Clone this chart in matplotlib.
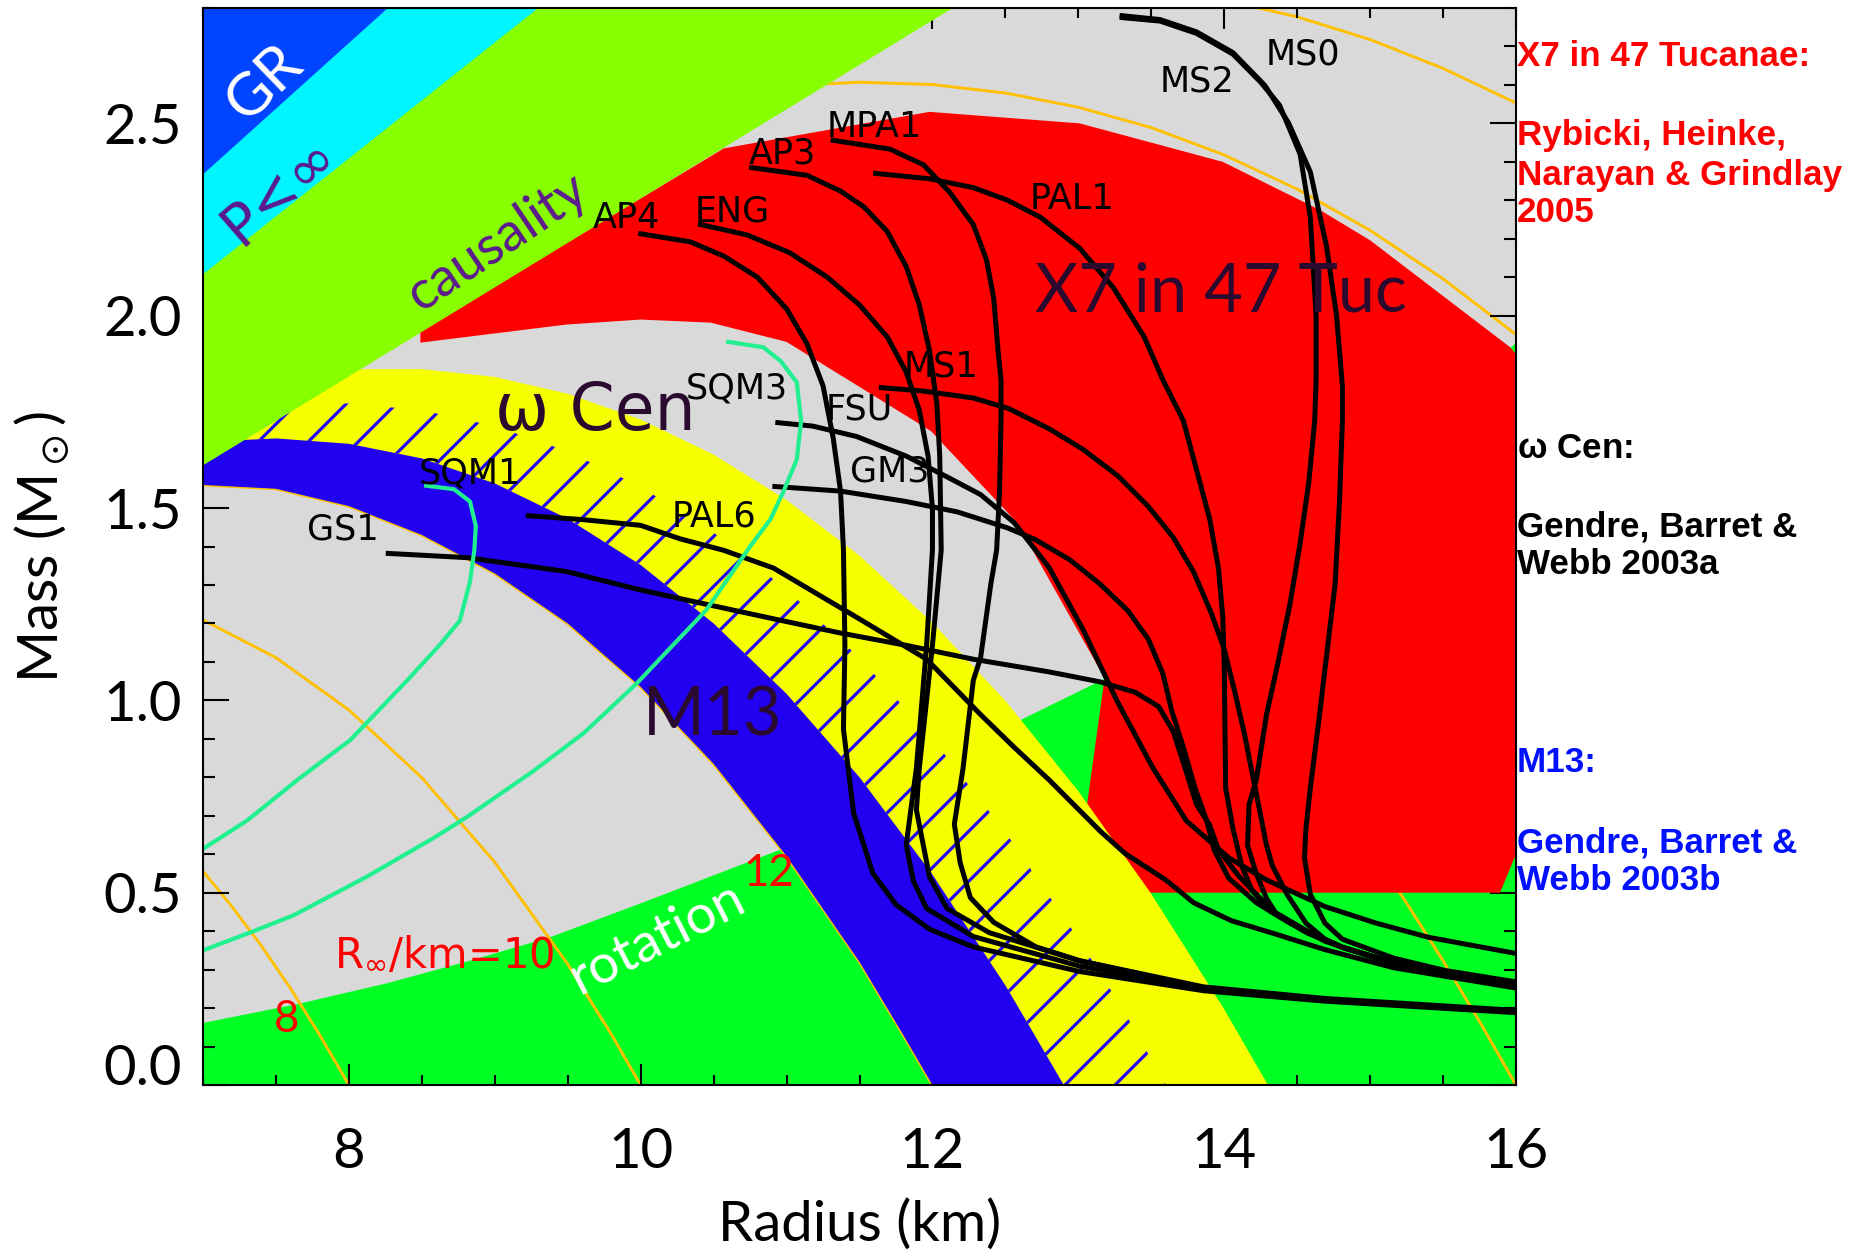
import matplotlib
matplotlib.use("Agg")
import matplotlib.pyplot as plt
from matplotlib.ticker import MultipleLocator, FormatStrFormatter

# ---------------- constraint regions (radius in km, mass in Msun) ----------------
gr_r = [7.0, 8.26]
gr_m = [2.37, 2.80]
pinf_r = [7.0, 9.29]
pinf_m = [2.11, 2.80]
caus_r = [7.0, 12.13]
caus_m = [1.613, 2.80]

rot_r = [7.0, 7.66, 8.26, 8.85, 9.38, 10.0, 10.96, 12.0, 12.61, 13.18, 14.0, 15.0, 15.96, 16.0]
rot_m = [0.163, 0.213, 0.266, 0.327, 0.386, 0.474, 0.614, 0.82, 0.952, 1.058, 1.27, 1.56, 1.918, 1.932]

# X7 in 47 Tuc allowed region
x7_r = [8.49, 8.49, 10.57, 11.98, 13.01, 13.99, 14.66, 15.00, 15.96, 16.00, 16.00, 15.89,
        13.49, 13.06, 13.18, 12.58, 11.99, 11.50, 11.00, 10.48, 10.00, 9.49, 8.49]
x7_m = [1.93, 1.96, 2.435, 2.53, 2.50, 2.40, 2.274, 2.196, 1.918, 1.90, 0.60, 0.50,
        0.50, 0.73, 1.058, 1.462, 1.70, 1.815, 1.932, 1.982, 1.99, 1.977, 1.93]

# band edges (M13 / omega Cen)
e12_r = [7.0, 7.5, 8.0, 8.5, 9.0, 9.5, 10.0, 10.5, 11.0, 11.5, 11.8, 12.0]
e12_m = [1.56, 1.55, 1.505, 1.43, 1.33, 1.20, 1.035, 0.835, 0.595, 0.32, 0.13, 0.0]
e129_r = [7.0, 7.5, 8.0, 8.5, 9.0, 9.5, 10.0, 10.5, 11.0, 11.5, 12.0, 12.5, 12.7, 12.9]
e129_m = [1.672, 1.681, 1.667, 1.629, 1.564, 1.472, 1.352, 1.200, 1.017, 0.800, 0.547, 0.259, 0.13, 0.0]
e136_r = [7.0, 7.5, 8.0, 8.5, 9.0, 9.5, 10.0, 10.5, 11.0, 11.5, 12.0, 12.5, 13.0, 13.3, 13.6]
e136_m = [1.743, 1.767, 1.772, 1.754, 1.713, 1.647, 1.555, 1.436, 1.288, 1.110, 0.900, 0.657, 0.380, 0.20, 0.0]
e143_r = [7.0, 7.5, 8.0, 8.5, 9.0, 9.5, 10.0, 10.5, 11.0, 11.5, 12.0, 12.5, 13.0, 13.5, 14.0, 14.3]
e143_m = [1.802, 1.841, 1.861, 1.861, 1.841, 1.797, 1.730, 1.639, 1.521, 1.376, 1.202, 0.999, 0.764, 0.497, 0.197, 0.0]

# constant R_infinity curves
r8_r = [7.0, 7.2, 7.4, 7.6, 7.8, 8.0]
r8_m = [0.556, 0.463, 0.362, 0.251, 0.130, 0.0]
r10_r = [7.0, 7.5, 8.0, 8.5, 9.0, 9.5, 9.8, 10.0]
r10_m = [1.209, 1.111, 0.975, 0.799, 0.579, 0.314, 0.131, 0.0]
r16_r = [14.5, 15.0, 15.25, 15.5, 15.75, 16.0]
r16_m = [0.877, 0.615, 0.473, 0.323, 0.165, 0.0]
r20_r = [10.6, 11.0, 11.5, 12.0, 12.5, 13.0, 13.5, 14.0, 14.5, 15.0, 15.5, 16.0]
r20_m = [2.581, 2.598, 2.607, 2.601, 2.579, 2.542, 2.489, 2.418, 2.329, 2.222, 2.096, 1.951]
r22_r = [13.0, 13.5, 14.0, 14.5, 15.0, 15.5, 16.0]
r22_m = [2.865, 2.850, 2.821, 2.777, 2.718, 2.643, 2.553]

# ---------------- mass-radius curves ----------------
gs1_r = [8.27, 8.81, 9.49, 10.0, 10.41, 10.91, 11.37, 11.82, 12.28, 12.80, 13.15, 13.39, 13.55,
         13.65, 13.74, 13.81, 13.90, 13.96, 14.10, 14.33, 14.57, 14.81, 15.16, 15.51, 16.0]
gs1_m = [1.382, 1.371, 1.335, 1.287, 1.253, 1.212, 1.175, 1.143, 1.107, 1.074, 1.048, 1.021, 0.984,
         0.920, 0.814, 0.729, 0.676, 0.612, 0.543, 0.453, 0.400, 0.358, 0.315, 0.289, 0.268]
pal6_r = [9.23, 9.60, 10.0, 10.27, 10.57, 10.91, 11.48, 11.96, 12.33, 12.56, 12.80, 13.15, 13.32,
          13.60, 13.79, 14.05, 14.33, 14.69, 15.16, 16.0]
pal6_m = [1.480, 1.470, 1.455, 1.420, 1.390, 1.344, 1.216, 1.107, 0.963, 0.878, 0.793, 0.660, 0.602,
          0.533, 0.474, 0.427, 0.395, 0.352, 0.305, 0.252]
fsu_r = [10.94, 11.18, 11.48, 11.82, 12.10, 12.33, 12.56, 12.80, 13.03, 13.27, 13.51, 13.74, 14.03,
         14.29, 14.69, 15.04, 15.40, 16.0]
fsu_m = [1.722, 1.713, 1.686, 1.635, 1.581, 1.535, 1.462, 1.345, 1.186, 0.995, 0.825, 0.687, 0.591,
         0.533, 0.464, 0.421, 0.384, 0.342]
gm3_r = [10.92, 11.37, 11.82, 12.17, 12.51, 12.70, 12.94, 13.15, 13.34, 13.48, 13.58, 13.64, 13.72,
         13.80, 13.88, 13.93, 14.03, 14.22, 14.45, 14.69, 14.81, 15.16, 15.51, 16.0]
gm3_m = [1.556, 1.544, 1.517, 1.490, 1.449, 1.419, 1.366, 1.302, 1.233, 1.159, 1.069, 0.973, 0.878,
         0.772, 0.687, 0.612, 0.538, 0.474, 0.421, 0.374, 0.358, 0.318, 0.291, 0.265]
ms1_r = [11.65, 11.94, 12.28, 12.52, 12.80, 13.03, 13.27, 13.48, 13.65, 13.79, 13.91, 14.00, 14.07,
         14.14, 14.19, 14.24, 14.29, 14.33, 14.43, 14.56, 14.69, 14.81, 15.16, 15.51, 16.0]
ms1_m = [1.813, 1.804, 1.786, 1.759, 1.706, 1.653, 1.584, 1.504, 1.424, 1.334, 1.228, 1.133, 1.026,
         0.910, 0.814, 0.719, 0.623, 0.570, 0.496, 0.421, 0.379, 0.358, 0.318, 0.291, 0.265]
pal1_r = [11.61, 11.98, 12.28, 12.51, 12.74, 13.01, 13.24, 13.45, 13.58, 13.72, 13.81, 13.90, 13.96,
          13.99, 14.00, 14.01, 14.06, 14.12, 14.19, 14.31, 14.57, 14.81, 15.16, 15.51, 16.0]
pal1_m = [2.370, 2.356, 2.333, 2.301, 2.256, 2.175, 2.073, 1.946, 1.833, 1.727, 1.600, 1.472, 1.345,
          1.217, 1.090, 0.772, 0.666, 0.570, 0.506, 0.453, 0.395, 0.358, 0.318, 0.291, 0.265]
ms2_r = [13.30, 13.56, 13.81, 14.06, 14.25, 14.38, 14.52, 14.59, 14.63, 14.63, 14.62, 14.58, 14.52,
         14.45, 14.37, 14.29, 14.22, 14.17, 14.16, 14.22, 14.29, 14.36, 14.56, 14.81, 15.16, 15.51, 16.0]
ms2_m = [2.775, 2.766, 2.734, 2.680, 2.607, 2.547, 2.420, 2.256, 2.000, 1.833, 1.727, 1.568, 1.408,
         1.249, 1.101, 0.963, 0.793, 0.729, 0.623, 0.549, 0.485, 0.443, 0.400, 0.358, 0.318, 0.291, 0.265]
ms0_r = [13.30, 13.56, 13.81, 14.06, 14.25, 14.28, 14.44, 14.59, 14.70, 14.77, 14.81, 14.81, 14.79,
         14.76, 14.71, 14.65, 14.59, 14.56, 14.55, 14.59, 14.69, 14.81, 15.16, 15.51, 16.0]
ms0_m = [2.780, 2.770, 2.738, 2.684, 2.610, 2.598, 2.502, 2.374, 2.183, 2.000, 1.818, 1.727, 1.515,
         1.302, 1.143, 0.952, 0.772, 0.666, 0.591, 0.496, 0.421, 0.379, 0.330, 0.298, 0.268]
ap4_r = [10.00, 10.34, 10.57, 10.80, 11.00, 11.14, 11.25, 11.32, 11.37, 11.39, 11.40, 11.39, 11.46,
         11.53, 11.59, 11.75, 11.98, 12.28, 13.01, 13.86, 14.69, 16.0]
ap4_m = [2.213, 2.192, 2.155, 2.100, 2.018, 1.927, 1.818, 1.681, 1.544, 1.391, 1.143, 0.925, 0.706,
         0.624, 0.551, 0.469, 0.405, 0.359, 0.295, 0.245, 0.218, 0.188]
eng_r = [10.41, 10.73, 11.02, 11.28, 11.50, 11.69, 11.82, 11.91, 11.97, 12.00, 12.00, 11.96, 11.89,
         11.82, 11.87, 11.96, 12.28, 13.01, 13.86, 14.69, 16.0]
eng_m = [2.237, 2.210, 2.164, 2.100, 2.028, 1.945, 1.854, 1.754, 1.635, 1.498, 1.391, 1.143, 0.824,
         0.624, 0.530, 0.459, 0.386, 0.309, 0.249, 0.220, 0.190]
ap3_r = [10.76, 11.14, 11.37, 11.53, 11.69, 11.82, 11.91, 11.98, 12.03, 12.05, 12.06, 12.00, 11.91,
         11.89, 11.98, 12.10, 12.39, 13.01, 13.86, 14.69, 16.0]
ap3_m = [2.385, 2.365, 2.324, 2.283, 2.219, 2.128, 2.028, 1.909, 1.772, 1.635, 1.391, 1.143, 0.824,
         0.715, 0.541, 0.459, 0.396, 0.323, 0.252, 0.222, 0.192]
mpa1_r = [11.32, 11.71, 11.94, 12.12, 12.28, 12.37, 12.42, 12.45, 12.47, 12.47, 12.46, 12.44, 12.40,
          12.33, 12.28, 12.21, 12.15, 12.19, 12.26, 12.42, 12.71, 13.01, 13.86, 14.69, 16.0]
mpa1_m = [2.456, 2.433, 2.392, 2.320, 2.237, 2.146, 2.046, 1.909, 1.833, 1.727, 1.544, 1.391, 1.302,
          1.111, 1.052, 0.824, 0.678, 0.578, 0.487, 0.423, 0.359, 0.323, 0.255, 0.225, 0.194]
sqm1_r = [8.53, 8.72, 8.83, 8.87, 8.86, 8.83, 8.76, 8.62, 8.40, 8.01, 7.66, 7.30, 7.0]
sqm1_m = [1.558, 1.549, 1.517, 1.453, 1.391, 1.308, 1.207, 1.143, 1.052, 0.897, 0.797, 0.687, 0.614]
sqm3_r = [10.60, 10.84, 10.96, 11.07, 11.10, 11.07, 10.98, 10.89, 10.75, 10.45, 9.97, 9.61, 9.26,
          8.81, 8.58, 8.12, 7.62, 7.32, 7.0]
sqm3_m = [1.932, 1.918, 1.882, 1.827, 1.727, 1.626, 1.544, 1.471, 1.400, 1.235, 1.043, 0.915, 0.815,
          0.697, 0.642, 0.541, 0.441, 0.396, 0.350]

eos_names = ["GS1", "PAL6", "FSU", "GM3", "MS1", "PAL1", "MS2", "MS0",
             "AP4", "ENG", "AP3", "MPA1", "SQM1", "SQM3"]
x_ticks = [8, 10, 12, 14, 16]
y_ticks = [0.0, 0.5, 1.0, 1.5, 2.0, 2.5]

# ---------------- figure ----------------
plt.rcParams["hatch.linewidth"] = 0.75
plt.rcParams["mathtext.default"] = "regular"
thin = dict(family=["Lato", "DejaVu Sans"])

fig = plt.figure(figsize=(1870 / 300, 1255 / 300), dpi=300)
ax = fig.add_axes([203 / 1870, 1 - 1085 / 1255, 1313 / 1870, 1077 / 1255])
ax.set_facecolor("#d9d9d9")

ax.fill_between(rot_r, 0, rot_m, color="#00ff22", lw=0, zorder=1)

orange = "#ffc000"
for rr, mm in [(r8_r, r8_m), (r10_r, r10_m), (e12_r, e12_m), (r16_r, r16_m),
               (r20_r, r20_m), (r22_r, r22_m)]:
    ax.plot(rr, mm, color=orange, lw=0.7, zorder=1.5)

ax.fill(x7_r, x7_m, color="#ff0000", lw=0, zorder=2)

ax.fill(e143_r + e12_r[::-1], e143_m + e12_m[::-1], color="#f6ff00", lw=0, zorder=3)
ax.fill(e136_r + e129_r[::-1], e136_m + e129_m[::-1], facecolor="none",
        edgecolor="#2200ff", hatch="//", lw=0, zorder=3.5)
ax.fill(e129_r + e12_r[::-1], e129_m + e12_m[::-1], color="#2200f0", lw=0, zorder=4)

ax.fill_between(caus_r, caus_m, 2.8, color="#88ff00", lw=0, zorder=5)
ax.fill_between(pinf_r, pinf_m, 2.8, color="#00f5ff", lw=0, zorder=5.1)
ax.fill_between(gr_r, gr_m, 2.8, color="#0044ff", lw=0, zorder=5.2)

curves = [(gs1_r, gs1_m), (pal6_r, pal6_m), (fsu_r, fsu_m), (gm3_r, gm3_m), (ms1_r, ms1_m),
          (pal1_r, pal1_m), (ms2_r, ms2_m), (ms0_r, ms0_m), (ap4_r, ap4_m), (eng_r, eng_m),
          (ap3_r, ap3_m), (mpa1_r, mpa1_m)]
for rr, mm in curves:
    ax.plot(rr, mm, color="black", lw=1.2, zorder=6)
for rr, mm in [(sqm1_r, sqm1_m), (sqm3_r, sqm3_m)]:
    ax.plot(rr, mm, color="#20f090", lw=1.0, zorder=6)

# curve labels
label_pos = [(7.96, 1.443), (10.50, 1.479), (11.50, 1.755), (11.71, 1.596), (12.06, 1.867),
             (12.96, 2.304), (13.81, 2.608), (14.54, 2.678), (9.90, 2.254), (10.63, 2.272),
             (10.97, 2.423), (11.60, 2.490), (8.83, 1.591), (10.66, 1.812)]
for name, (lx, ly) in zip(eos_names, label_pos):
    ax.text(lx, ly, name, fontsize=8.4, ha="center", va="center", color="black", zorder=7)

# region labels
dark = "#2b0a30"
purple = "#5c1a8e"
ax.text(7.418, 2.603, "GR", color="white", fontsize=14.5, rotation=44,
        ha="center", va="center", rotation_mode="anchor", zorder=7, **thin)
ax.text(7.52, 2.324, "P<∞", color=purple, fontsize=14, rotation=41,
        ha="center", va="center", rotation_mode="anchor", zorder=7)
ax.text(9.02, 2.192, "causality", color=purple, fontsize=13, rotation=34,
        ha="center", va="center", rotation_mode="anchor", zorder=7, **thin)
ax.text(10.11, 0.381, "rotation", color="white", fontsize=13, rotation=27,
        ha="center", va="center", rotation_mode="anchor", zorder=7, **thin)
ax.text(9.69, 1.75, "ω Cen", color=dark, fontsize=15.5, ha="center", va="center", zorder=7)
ax.text(13.98, 2.06, "X7 in 47 Tuc", color=dark, fontsize=16, ha="center", va="center",
        zorder=7, **thin)
ax.text(10.49, 0.957, "M13", color=dark, fontsize=16, ha="center", va="center", zorder=7, **thin)
ax.text(7.90, 0.309, r"R$_\infty$/km=10", color="red", fontsize=10, ha="left",
        va="baseline", zorder=7)
ax.text(7.573, 0.169, "8", color="red", fontsize=10.5, ha="center", va="center", zorder=7, **thin)
ax.text(10.875, 0.549, "12", color="red", fontsize=10.5, ha="center", va="center", zorder=7, **thin)

# axes
ax.set_xlim(7, 16)
ax.set_ylim(0, 2.8)
ax.set_xticks(x_ticks)
ax.set_yticks(y_ticks)
ax.xaxis.set_minor_locator(MultipleLocator(0.5))
ax.yaxis.set_minor_locator(MultipleLocator(0.1))
ax.yaxis.set_major_formatter(FormatStrFormatter("%.1f"))
ax.tick_params(which="both", direction="in", top=True, right=True, width=0.5,
               labelsize=13.5, zorder=8)
ax.tick_params(axis="x", which="major", length=5, pad=10)
ax.tick_params(axis="x", which="minor", length=2.4)
ax.tick_params(axis="y", which="major", length=6.2, pad=5)
ax.tick_params(axis="y", which="minor", length=2.9)
for lab in ax.get_xticklabels() + ax.get_yticklabels():
    lab.set_family(["Lato", "DejaVu Sans"])
# the bottom label sits a little above its tick, as in the original
ax.yaxis.get_major_ticks()[0].label1.set_va("baseline")
for sp in ax.spines.values():
    sp.set_linewidth(0.5)
    sp.set_zorder(9)

ax.set_xlabel("Radius (km)", fontsize=13.5, va="center", **thin)
ax.xaxis.set_label_coords(0.5, -0.130)
ax.set_ylabel(r"Mass (M$_\odot$)", fontsize=13.5, va="center", **thin)
ax.yaxis.set_label_coords(-0.1226, 0.5)

# references on the right
side_x = 1517 / 1870
side = [("X7 in 47 Tucanae:", 56, "#ff0000"), ("Rybicki, Heinke,", 136, "#ff0000"),
        ("Narayan & Grindlay", 175, "#ff0000"), ("2005", 212, "#ff0000"),
        (r"$\omega$ Cen:", 449, "black"), ("Gendre, Barret &", 527, "black"),
        ("Webb 2003a", 565, "black"), ("M13:", 763, "#0010ff"),
        ("Gendre, Barret &", 843, "#0010ff"), ("Webb 2003b", 881, "#0010ff")]
for txt, py, col in side:
    fig.text(side_x, 1 - py / 1255, txt, color=col, fontsize=8.4, fontweight="bold",
             family="Liberation Sans", ha="left", va="center")

fig.savefig("out.png", dpi=300)
